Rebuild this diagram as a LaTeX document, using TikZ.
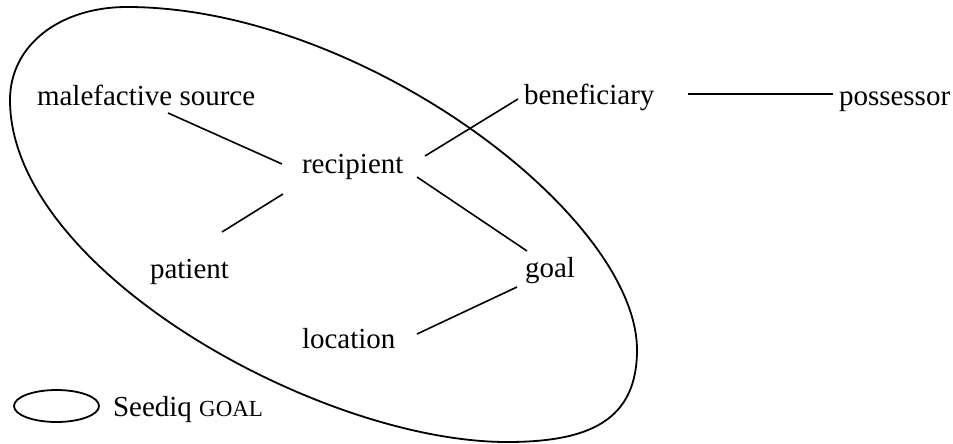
\documentclass[tikz,border=0pt]{standalone}
\usepackage{fontspec}
\setmainfont{Liberation Serif}
\begin{document}
\begin{tikzpicture}[x=1pt,y=-1pt,
  lbl/.style={anchor=base west,inner sep=0pt,outer sep=0pt,font=\fontsize{29}{34}\selectfont},
  link/.style={line width=1.6pt},
  hull/.style={line width=1.8pt}]
\useasboundingbox (0,0) rectangle (953,444);
% big region
\draw[hull] (127,7) .. controls (360,7) and (637,215) .. (637,350)
  .. controls (637,420) and (590,442) .. (507,442)
  .. controls (320,442) and (10,270) .. (10,100)
  .. controls (10,45) and (60,7) .. cycle;
% nodes
\node[lbl] (ms)  at (37,105)  {malefactive source};
\node[lbl] (rec) at (302,173) {recipient};
\node[lbl] (ben) at (524,104) {beneficiary};
\node[lbl] (pos) at (839,105) {possessor};
\node[lbl] (pat) at (150,278) {patient};
\node[lbl] (goal) at (525,277) {goal};
\node[lbl] (loc) at (302,348) {location};
% legend
\draw[hull] (56.5,406) ellipse [x radius=42.5pt, y radius=16pt];
\node[lbl] (leg) at (113,416) {Seediq {\fontsize{23}{28}\selectfont GOAL}};
% connectors
\draw[link] ([shift={(131,8)}]ms.base west) -- ([shift={(-20,-9)}]rec.base west);
\draw[link] ([shift={(-19,21)}]rec.base west) -- ([shift={(72,-46)}]pat.base west);
\draw[link] ([shift={(123,-17)}]rec.base west) -- ([shift={(-6,-5)}]ben.base west);
\draw[link] ([shift={(115,4)}]rec.base west) -- ([shift={(2,-26)}]goal.base west);
\draw[link] ([shift={(115,-14)}]loc.base west) -- ([shift={(-8,10)}]goal.base west);
\draw[link] ([shift={(164,-10)}]ben.base west) -- ([shift={(-6,-11)}]pos.base west);
\end{tikzpicture}
\end{document}
